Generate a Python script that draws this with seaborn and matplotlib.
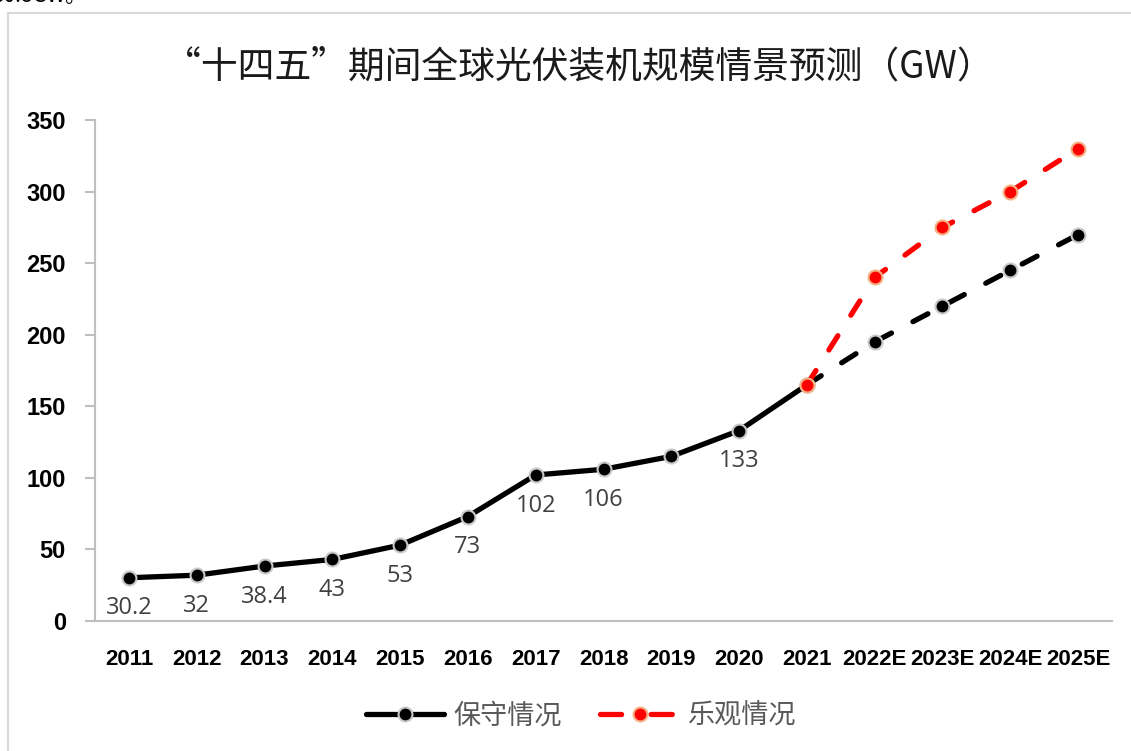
import matplotlib
matplotlib.use("Agg")
import matplotlib.pyplot as plt
import seaborn as sns
import numpy as np
import pandas as pd
from matplotlib.lines import Line2D
from matplotlib.patches import Rectangle

# ---- data ----
years_hist = ["2011", "2012", "2013", "2014", "2015", "2016", "2017", "2018", "2019", "2020", "2021"]
years_fcst = ["2021", "2022E", "2023E", "2024E", "2025E"]
hist_values = [30.2, 32, 38.4, 43, 53, 73, 102, 106, 115, 133, 165]
hist_labels = ["30.2", "32", "38.4", "43", "53", "73", "102", "106", None, "133", None]
conservative_fcst = [165, 195, 220, 245, 270]
optimistic_fcst = [165, 240, 275, 300, 330]
series_names = ["保守情况", "乐观情况"]
title = "“十四五”期间全球光伏装机规模情景预测（GW）"
y_ticks = [0, 50, 100, 150, 200, 250, 300, 350]

categories = years_hist + years_fcst[1:]
pos = {c: i for i, c in enumerate(categories)}

sns.set_theme(style="white")
plt.rcParams['font.family'] = ['Liberation Sans', 'Noto Sans CJK SC', 'DejaVu Sans']

fig = plt.figure(figsize=(11.31, 7.51), dpi=100)
ax = fig.add_axes([95/1131, 130/751, (1112-95)/1131, (621-120)/751])

df_hist = pd.DataFrame({"x": [pos[c] for c in years_hist], "y": hist_values})
df_cons = pd.DataFrame({"x": [pos[c] for c in years_fcst], "y": conservative_fcst})
df_opt = pd.DataFrame({"x": [pos[c] for c in years_fcst], "y": optimistic_fcst})

lw = 3.8
dash = (0, (3.2, 4.6))
mk = dict(marker="o", markersize=10, markeredgewidth=1.5)
sns.lineplot(data=df_cons, x="x", y="y", ax=ax, color="black", linewidth=lw,
             linestyle=dash, dash_capstyle="round",
             markerfacecolor="black", markeredgecolor="#c8c8c8", zorder=3, **mk)
sns.lineplot(data=df_hist, x="x", y="y", ax=ax, color="black", linewidth=lw,
             solid_capstyle="round",
             markerfacecolor="black", markeredgecolor="#c8c8c8", zorder=4, **mk)
sns.lineplot(data=df_opt, x="x", y="y", ax=ax, color="#ff0000", linewidth=lw,
             linestyle=dash, dash_capstyle="round",
             markerfacecolor="#ff0000", markeredgecolor="#f4b183", zorder=5, **mk)

for c, v, lab in zip(years_hist, hist_values, hist_labels):
    if lab is None:
        continue
    ax.annotate(lab, (pos[c], v), xytext=(0, -22), textcoords="offset points",
                ha="center", va="center", fontsize=17, color="#404040",
                family=['Open Sans', 'DejaVu Sans'])

ax.set_xlim(-0.5, len(categories) - 0.5)
ax.set_ylim(0, 350)
ax.set_yticks(y_ticks)
ax.set_yticklabels([str(t) for t in y_ticks], fontsize=17, fontweight="bold", color="black")
ax.set_xticks(range(len(categories)))
ax.set_xticklabels(categories, fontsize=16, fontweight="bold", color="black")
ax.set_xlabel("")
ax.set_ylabel("")
for s in ["top", "right"]:
    ax.spines[s].set_visible(False)
for s in ["left", "bottom"]:
    ax.spines[s].set_color("#bfbfbf")
    ax.spines[s].set_linewidth(1.5)
ax.tick_params(axis="y", which="both", left=True, length=7, width=1.5, color="#bfbfbf", pad=14)
ax.tick_params(axis="x", bottom=False, pad=14)
ax.grid(False)

fig.text(0.512, 1 - 67/751, title, ha="center", va="center", fontsize=26.5,
         family=['Noto Sans CJK SC', 'DejaVu Sans'], color="#1a1a1a")

handles = [
    Line2D([], [], color="black", linewidth=lw, marker="o", markersize=10,
           markerfacecolor="black", markeredgecolor="#c8c8c8", markeredgewidth=1.5,
           solid_capstyle="round"),
    Line2D([], [], color="#ff0000", linewidth=lw, linestyle=(0, (4.0, 5.6)), dash_capstyle="round",
           marker="o", markersize=10, markerfacecolor="#ff0000",
           markeredgecolor="#f4b183", markeredgewidth=1.5),
]
leg = fig.legend(handles, series_names, loc="center", bbox_to_anchor=(0.514, 1 - 716/751),
                 ncol=2, frameon=False, handlelength=2.9, handletextpad=0.35, columnspacing=1.4,
                 prop={'family': ['Noto Sans CJK SC', 'DejaVu Sans'], 'size': 19.5})
for t in leg.get_texts():
    t.set_color("#595959")

# outer chart border (partially off-canvas)
fig.patches.append(Rectangle((8/1131, -0.05), 1.2, 1 - 13/751 + 0.05, transform=fig.transFigure,
                             fill=False, edgecolor="#d9d9d9", linewidth=1.5))
fig.text(-8/1131, 1 - 2/751, "30.8GW。", ha="left", va="baseline", fontsize=15,
         family=['Noto Sans CJK SC', 'DejaVu Sans'], color="black")

fig.savefig("out.png", dpi=100, facecolor="white")
